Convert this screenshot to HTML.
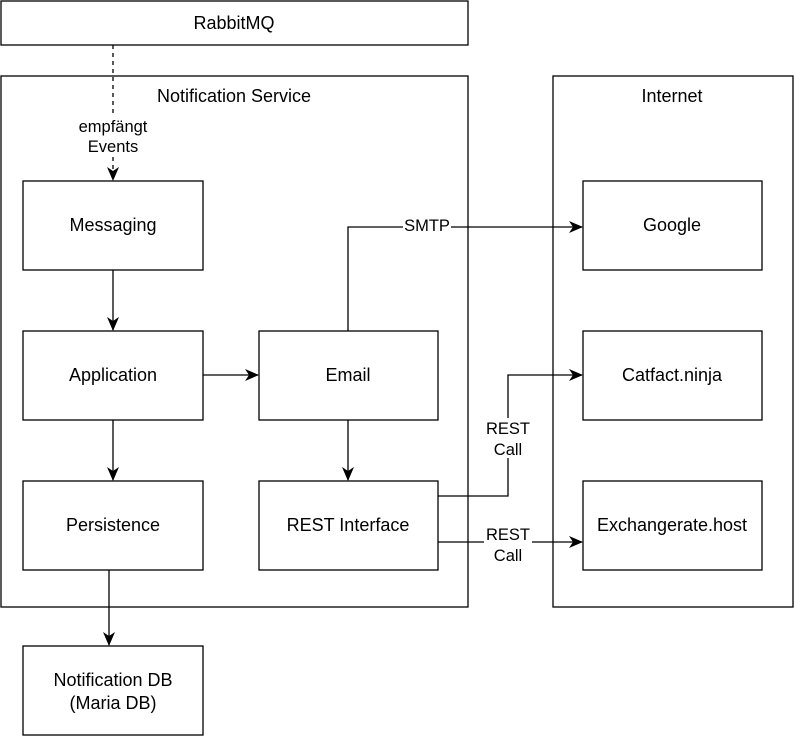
<!DOCTYPE html>
<html><head><meta charset="utf-8"><style>
html,body{margin:0;padding:0;background:#fff;}
svg{display:block;font-family:"Liberation Sans",Arial,sans-serif;}
</style></head><body>
<svg width="795" height="738" viewBox="0 0 795 738" xmlns="http://www.w3.org/2000/svg">
<defs>
<marker id="a" markerWidth="14" markerHeight="12" refX="13" refY="6" orient="auto" markerUnits="userSpaceOnUse">
<path d="M0,0 L14,6 L0,12 L4,6 Z" fill="#000"/>
</marker>
</defs>
<g fill="#fff" stroke="#000" stroke-width="1.3">
<rect x="1" y="1" width="467" height="44"/>
<rect x="1" y="76" width="467" height="531"/>
<rect x="553" y="76" width="240" height="531"/>
<rect x="23" y="181" width="180" height="89"/>
<rect x="23" y="331" width="180" height="89"/>
<rect x="23" y="481" width="180" height="89"/>
<rect x="259" y="331" width="179" height="89"/>
<rect x="259" y="481" width="179" height="89"/>
<rect x="583" y="181" width="179" height="89"/>
<rect x="583" y="331" width="179" height="89"/>
<rect x="583" y="481" width="179" height="89"/>
<rect x="23" y="646" width="180" height="89"/>
</g>
<g fill="none" stroke="#000" stroke-width="1.3">
<path d="M113,45 V180" stroke-dasharray="4,4" marker-end="url(#a)"/>
<path d="M113,270 V330" marker-end="url(#a)"/>
<path d="M113,420 V480" marker-end="url(#a)"/>
<path d="M109,570 V645" marker-end="url(#a)"/>
<path d="M203,375 H258" marker-end="url(#a)"/>
<path d="M348,420 V480" marker-end="url(#a)"/>
<path d="M348,331 V227 H582" marker-end="url(#a)"/>
<path d="M438,496 H508 V375 H582" marker-end="url(#a)"/>
<path d="M438,542 H582" marker-end="url(#a)"/>
</g>
<g fill="#fff">
<rect x="76" y="115" width="74" height="42"/>
<rect x="403" y="216" width="48" height="18"/>
<rect x="484" y="418" width="48" height="40"/>
<rect x="484" y="524" width="48" height="40"/>
</g>
<g font-size="18" text-anchor="middle" fill="#000">
<text x="234" y="29">RabbitMQ</text>
<text x="234" y="102">Notification Service</text>
<text x="672" y="102">Internet</text>
<text x="113" y="231">Messaging</text>
<text x="113" y="381">Application</text>
<text x="113" y="531">Persistence</text>
<text x="348" y="381">Email</text>
<text x="348" y="531">REST Interface</text>
<text x="672" y="231">Google</text>
<text x="672" y="381">Catfact.ninja</text>
<text x="672" y="531">Exchangerate.host</text>
<text x="113" y="686">Notification DB</text>
<text x="113" y="709">(Maria DB)</text>
</g>
<g font-size="16.5" text-anchor="middle" fill="#000">
<text x="113" y="132">empfängt</text>
<text x="113" y="152">Events</text>
<text x="427" y="231">SMTP</text>
<text x="508" y="434">REST</text>
<text x="508" y="455">Call</text>
<text x="508" y="540">REST</text>
<text x="508" y="561">Call</text>
</g>
</svg>
</body></html>
